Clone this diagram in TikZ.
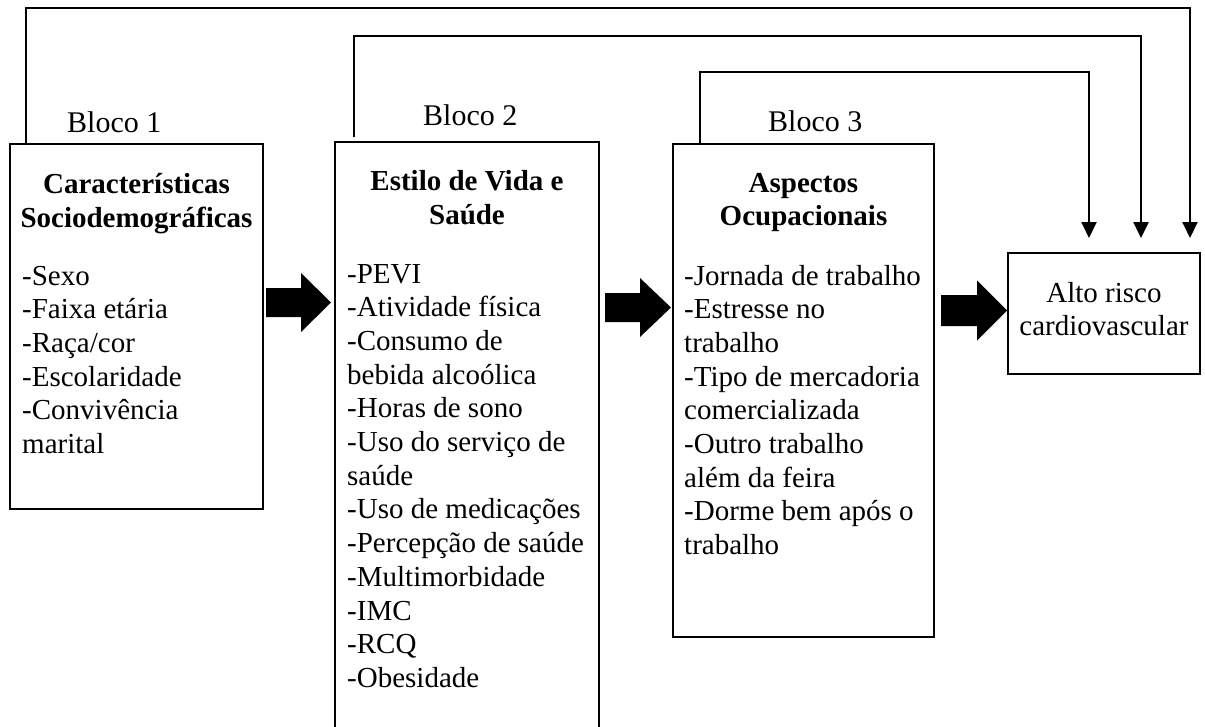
\documentclass[tikz,border=0pt]{standalone}
\usepackage{fontspec}
\setmainfont{Liberation Serif}
\usetikzlibrary{arrows.meta,calc}
\begin{document}
\begin{tikzpicture}[x=1pt,y=-1pt,
  box/.style={draw, line width=1.5pt, anchor=north west, inner sep=0pt, outer sep=0pt},
  hdr/.style={font=\fontsize{29}{34}\selectfont\bfseries, anchor=base, inner sep=0pt},
  item/.style={font=\fontsize{29}{34}\selectfont, anchor=base west, inner sep=0pt},
  ctr/.style={font=\fontsize{29}{34}\selectfont, anchor=base, inner sep=0pt},
  blk/.style={font=\fontsize{30}{34}\selectfont, anchor=base west, inner sep=0pt},
  fbarrow/.style={line width=2pt, -{Triangle[length=16pt,width=15pt]}},
  bigarrow/.style={fill=black}
]
\useasboundingbox (0,0) rectangle (1205,726);
\clip (0,0) rectangle (1205,726);

% boxes
\node[box, minimum width=253pt, minimum height=365pt] (b1) at (10,144) {};
\node[box, minimum width=264pt, minimum height=600pt] (b2) at (335,142) {};
\node[box, minimum width=261pt, minimum height=493pt] (b3) at (673,144) {};
\node[box, minimum width=192pt, minimum height=121pt] (b4) at (1008,253) {};

% block labels
\node[blk] (k1) at (67,132) {Bloco 1};
\node[blk] (k2) at (423,125) {Bloco 2};
\node[blk] (k3) at (768,131) {Bloco 3};

% headers
\node[hdr] (h1a) at ($(b1.north)+(0,49)$) {Características};
\node[hdr] (h1b) at ($(b1.north)+(0,83)$) {Sociodemográficas};
\node[hdr] (h2a) at ($(b2.north)+(0,48)$) {Estilo de Vida e};
\node[hdr] (h2b) at ($(b2.north)+(0,82)$) {Saúde};
\node[hdr] (h3a) at ($(b3.north)+(0,48)$) {Aspectos};
\node[hdr] (h3b) at ($(b3.north)+(0,81)$) {Ocupacionais};

% lists
\foreach \t [count=\i from 0] in {-Sexo,-Faixa etária,-Raça/cor,-Escolaridade,-Convivência,marital}
  \node[item] (l1-\i) at ($(b1.north west)+(12,{141+33.7*\i})$) {\t};
\foreach \t [count=\i from 0] in {-PEVI,-Atividade física,-Consumo de,bebida alcoólica,-Horas de sono,-Uso do serviço de,saúde,-Uso de medicações,-Percepção de saúde,-Multimorbidade,-IMC,-RCQ,-Obesidade}
  \node[item] (l2-\i) at ($(b2.north west)+(12,{141+33.7*\i})$) {\t};
\foreach \t [count=\i from 0] in {-Jornada de trabalho,-Estresse no,trabalho,-Tipo de mercadoria,comercializada,-Outro trabalho,além da feira,-Dorme bem após o,trabalho}
  \node[item] (l3-\i) at ($(b3.north west)+(11,{141+33.7*\i})$) {\t};

% outcome text
\node[ctr] (o1) at ($(b4.north)+(0,49)$) {Alto risco};
\node[ctr] (o2) at ($(b4.north)+(0,82)$) {cardiovascular};

% big arrows
\fill[bigarrow] (266,302.5) ++(0,-14.5) -- ++(35,0) -- ++(0,-15) -- ++(30,29.5) -- ++(-30,29.5) -- ++(0,-15) -- ++(-35,0) -- cycle;
\fill[bigarrow] (605,307.5) ++(0,-14.5) -- ++(35,0) -- ++(0,-15) -- ++(31,29.5) -- ++(-31,29.5) -- ++(0,-15) -- ++(-35,0) -- cycle;
\fill[bigarrow] (941,310.5) ++(0,-15.5) -- ++(36,0) -- ++(0,-14.5) -- ++(30,30) -- ++(-30,30) -- ++(0,-14.5) -- ++(-36,0) -- cycle;

% feedback connectors
\coordinate (c1) at ($(b1.north west)+(16,0)$);
\coordinate (c2) at ($(b2.north west)+(19,-5)$);
\coordinate (c3) at ($(b3.north west)+(27,0)$);
\coordinate (t1) at ($(b4.north west)+(182,-15)$);
\coordinate (t2) at ($(b4.north west)+(133,-15)$);
\coordinate (t3) at ($(b4.north west)+(81,-15)$);
\draw[fbarrow] (c1) -- ++(0,-136) -| (t1);
\draw[fbarrow, line width=2.5pt] (c2) -- ++(0,-101) -| (t2);
\draw[fbarrow] (c3) -- ++(0,-72) -| (t3);
\end{tikzpicture}
\end{document}
